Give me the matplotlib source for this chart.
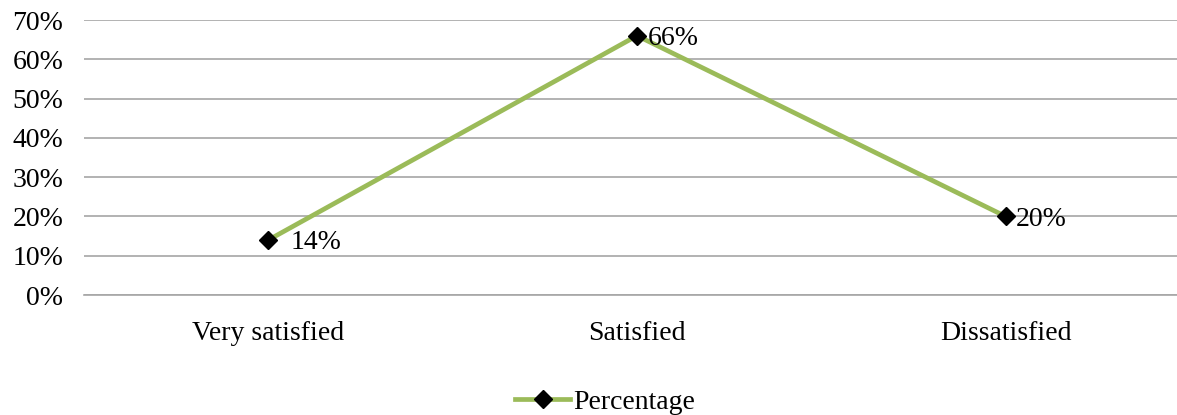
import matplotlib.pyplot as plt
from matplotlib.ticker import PercentFormatter

categories = ['Very satisfied', 'Satisfied', 'Dissatisfied']
percentage = [0.14, 0.66, 0.20]
yticks = [0.0, 0.1, 0.2, 0.3, 0.4, 0.5, 0.6, 0.7]

plt.rcParams['font.family'] = ['Liberation Serif', 'DejaVu Serif']

W, H = 1177, 415
fig = plt.figure(figsize=(W / 100, H / 100), dpi=100)
left, right, bottom, top = 84, 1190, 295, 20
ax = fig.add_axes([left / W, (H - bottom) / H, (right - left) / W, (bottom - top) / H])

x = range(len(categories))
line, = ax.plot(x, percentage, color='#9BBB59', linewidth=3.4, marker='D',
                markersize=9.5, markerfacecolor='black', markeredgecolor='black',
                label='Percentage', zorder=3)

# first label was nudged further right in the original
label_dx = [16, 8, 7]
for xi, v, dx in zip(x, percentage, label_dx):
    ax.annotate(f'{v:.0%}', (xi, v), xytext=(dx, -2), textcoords='offset points',
                ha='left', va='center', fontsize=20)

ax.set_xlim(-0.5, len(categories) - 0.5)
ax.set_ylim(0, 0.7)
ax.set_yticks(yticks)
ax.yaxis.set_major_formatter(PercentFormatter(1.0, decimals=0))
ax.set_xticks(list(x))
ax.set_xticklabels(categories)
ax.tick_params(axis='both', length=0, labelsize=20)
ax.tick_params(axis='x', pad=19)
ax.tick_params(axis='y', pad=15)
ax.grid(axis='y', color='#A6A6A6', linewidth=1.2)
ax.set_axisbelow(True)
for side in ['top', 'right', 'left']:
    ax.spines[side].set_visible(False)
ax.spines['bottom'].set_color('#A6A6A6')
ax.spines['bottom'].set_linewidth(1.2)

fig.legend(handles=[line], loc='center', bbox_to_anchor=(605 / W, (H - 402) / H),
           frameon=False, fontsize=20, handlelength=2.0, handletextpad=0.1,
           borderaxespad=0)

fig.savefig('out.png', dpi=100)
